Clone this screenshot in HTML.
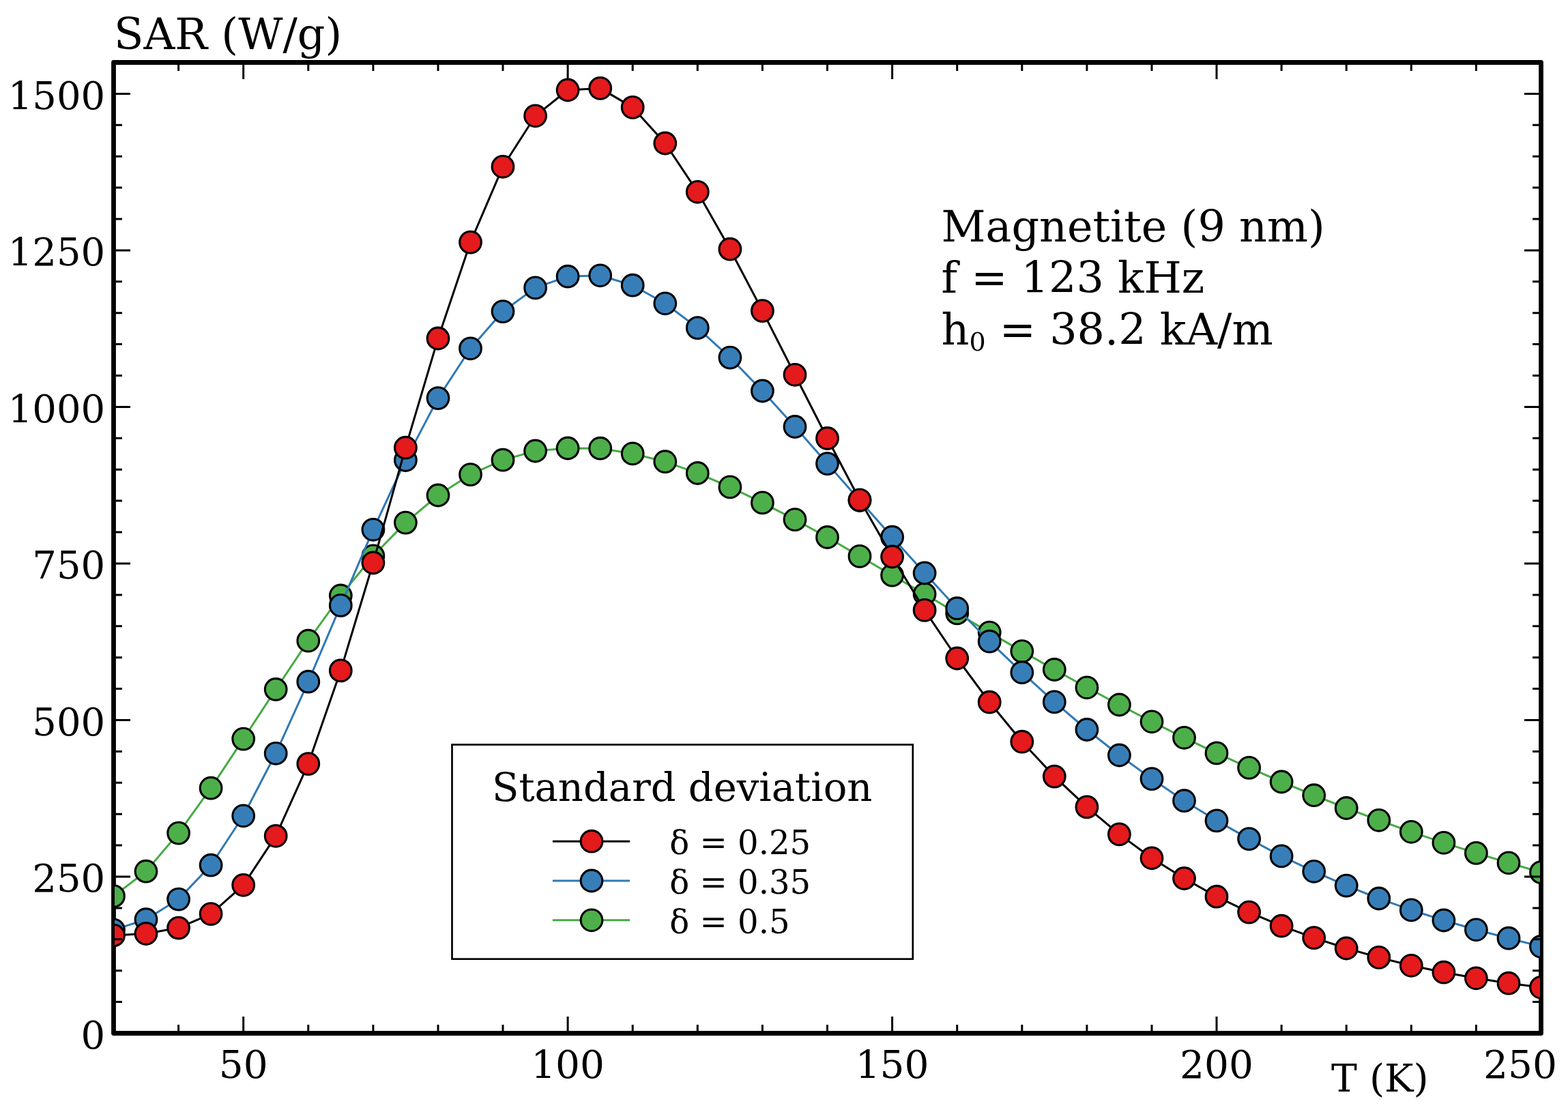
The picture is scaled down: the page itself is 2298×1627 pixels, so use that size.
<!DOCTYPE html>
<html><head><meta charset="utf-8"><title>SAR vs T</title><style>html,body{margin:0;padding:0;background:#fff;overflow:hidden}svg{display:block}</style></head><body>
<svg width="2298" height="1627" viewBox="0 0 2298 1627">
<rect width="2298" height="1627" fill="#fff"/>
<defs><clipPath id="c"><rect x="168" y="93" width="2089" height="1420"/></clipPath></defs>
<rect x="166.5" y="91.5" width="2092.0" height="1423.0" fill="none" stroke="#000" stroke-width="6.8" stroke-linejoin="round"/>
<g clip-path="url(#c)">
<polyline points="166.5,1313.5 214.0,1277.2 261.6,1221.1 309.1,1155.2 356.7,1083.1 404.2,1010.5 451.8,939.2 499.3,873.0 546.9,814.8 594.4,766.1 642.0,726.0 689.5,695.6 737.0,674.2 784.6,661.0 832.1,657.0 879.7,657.2 927.2,664.9 974.8,676.7 1022.3,693.5 1069.9,713.9 1117.4,736.9 1165.0,761.6 1212.5,787.5 1260.0,815.4 1307.6,843.2 1355.1,870.8 1402.7,898.9 1450.2,927.1 1497.8,954.6 1545.3,981.5 1592.9,1007.8 1640.4,1033.0 1688.0,1057.8 1735.5,1081.3 1783.0,1103.9 1830.6,1125.4 1878.1,1146.0 1925.7,1165.7 1973.2,1184.5 2020.8,1202.3 2068.3,1219.3 2115.9,1235.3 2163.4,1250.4 2211.0,1264.8 2258.5,1278.6" fill="none" stroke="#46ab43" stroke-width="3.0" stroke-linejoin="round"/>
<g fill="#4daf4a" stroke="#000" stroke-width="3.1">
<circle cx="166.5" cy="1313.5" r="15.85"/>
<circle cx="214.0" cy="1277.2" r="15.85"/>
<circle cx="261.6" cy="1221.1" r="15.85"/>
<circle cx="309.1" cy="1155.2" r="15.85"/>
<circle cx="356.7" cy="1083.1" r="15.85"/>
<circle cx="404.2" cy="1010.5" r="15.85"/>
<circle cx="451.8" cy="939.2" r="15.85"/>
<circle cx="499.3" cy="873.0" r="15.85"/>
<circle cx="546.9" cy="814.8" r="15.85"/>
<circle cx="594.4" cy="766.1" r="15.85"/>
<circle cx="642.0" cy="726.0" r="15.85"/>
<circle cx="689.5" cy="695.6" r="15.85"/>
<circle cx="737.0" cy="674.2" r="15.85"/>
<circle cx="784.6" cy="661.0" r="15.85"/>
<circle cx="832.1" cy="657.0" r="15.85"/>
<circle cx="879.7" cy="657.2" r="15.85"/>
<circle cx="927.2" cy="664.9" r="15.85"/>
<circle cx="974.8" cy="676.7" r="15.85"/>
<circle cx="1022.3" cy="693.5" r="15.85"/>
<circle cx="1069.9" cy="713.9" r="15.85"/>
<circle cx="1117.4" cy="736.9" r="15.85"/>
<circle cx="1165.0" cy="761.6" r="15.85"/>
<circle cx="1212.5" cy="787.5" r="15.85"/>
<circle cx="1260.0" cy="815.4" r="15.85"/>
<circle cx="1307.6" cy="843.2" r="15.85"/>
<circle cx="1355.1" cy="870.8" r="15.85"/>
<circle cx="1402.7" cy="898.9" r="15.85"/>
<circle cx="1450.2" cy="927.1" r="15.85"/>
<circle cx="1497.8" cy="954.6" r="15.85"/>
<circle cx="1545.3" cy="981.5" r="15.85"/>
<circle cx="1592.9" cy="1007.8" r="15.85"/>
<circle cx="1640.4" cy="1033.0" r="15.85"/>
<circle cx="1688.0" cy="1057.8" r="15.85"/>
<circle cx="1735.5" cy="1081.3" r="15.85"/>
<circle cx="1783.0" cy="1103.9" r="15.85"/>
<circle cx="1830.6" cy="1125.4" r="15.85"/>
<circle cx="1878.1" cy="1146.0" r="15.85"/>
<circle cx="1925.7" cy="1165.7" r="15.85"/>
<circle cx="1973.2" cy="1184.5" r="15.85"/>
<circle cx="2020.8" cy="1202.3" r="15.85"/>
<circle cx="2068.3" cy="1219.3" r="15.85"/>
<circle cx="2115.9" cy="1235.3" r="15.85"/>
<circle cx="2163.4" cy="1250.4" r="15.85"/>
<circle cx="2211.0" cy="1264.8" r="15.85"/>
<circle cx="2258.5" cy="1278.6" r="15.85"/>
</g>

<polyline points="166.5,1363.0 214.0,1347.7 261.6,1318.1 309.1,1268.2 356.7,1195.8 404.2,1104.3 451.8,999.2 499.3,887.4 546.9,776.3 594.4,674.5 642.0,583.6 689.5,510.8 737.0,456.6 784.6,421.9 832.1,405.2 879.7,403.8 927.2,418.2 974.8,444.8 1022.3,480.6 1069.9,524.1 1117.4,573.0 1165.0,625.5 1212.5,679.6 1260.0,733.5 1307.6,787.2 1355.1,840.0 1402.7,891.7 1450.2,940.2 1497.8,985.7 1545.3,1028.9 1592.9,1069.5 1640.4,1107.0 1688.0,1141.6 1735.5,1173.7 1783.0,1202.9 1830.6,1229.6 1878.1,1254.9 1925.7,1277.3 1973.2,1298.1 2020.8,1317.0 2068.3,1333.9 2115.9,1349.0 2163.4,1362.8 2211.0,1375.2 2258.5,1387.4" fill="none" stroke="#3079b5" stroke-width="3.0" stroke-linejoin="round"/>
<g fill="#377eb8" stroke="#000" stroke-width="3.1">
<circle cx="166.5" cy="1363.0" r="15.85"/>
<circle cx="214.0" cy="1347.7" r="15.85"/>
<circle cx="261.6" cy="1318.1" r="15.85"/>
<circle cx="309.1" cy="1268.2" r="15.85"/>
<circle cx="356.7" cy="1195.8" r="15.85"/>
<circle cx="404.2" cy="1104.3" r="15.85"/>
<circle cx="451.8" cy="999.2" r="15.85"/>
<circle cx="499.3" cy="887.4" r="15.85"/>
<circle cx="546.9" cy="776.3" r="15.85"/>
<circle cx="594.4" cy="674.5" r="15.85"/>
<circle cx="642.0" cy="583.6" r="15.85"/>
<circle cx="689.5" cy="510.8" r="15.85"/>
<circle cx="737.0" cy="456.6" r="15.85"/>
<circle cx="784.6" cy="421.9" r="15.85"/>
<circle cx="832.1" cy="405.2" r="15.85"/>
<circle cx="879.7" cy="403.8" r="15.85"/>
<circle cx="927.2" cy="418.2" r="15.85"/>
<circle cx="974.8" cy="444.8" r="15.85"/>
<circle cx="1022.3" cy="480.6" r="15.85"/>
<circle cx="1069.9" cy="524.1" r="15.85"/>
<circle cx="1117.4" cy="573.0" r="15.85"/>
<circle cx="1165.0" cy="625.5" r="15.85"/>
<circle cx="1212.5" cy="679.6" r="15.85"/>
<circle cx="1260.0" cy="733.5" r="15.85"/>
<circle cx="1307.6" cy="787.2" r="15.85"/>
<circle cx="1355.1" cy="840.0" r="15.85"/>
<circle cx="1402.7" cy="891.7" r="15.85"/>
<circle cx="1450.2" cy="940.2" r="15.85"/>
<circle cx="1497.8" cy="985.7" r="15.85"/>
<circle cx="1545.3" cy="1028.9" r="15.85"/>
<circle cx="1592.9" cy="1069.5" r="15.85"/>
<circle cx="1640.4" cy="1107.0" r="15.85"/>
<circle cx="1688.0" cy="1141.6" r="15.85"/>
<circle cx="1735.5" cy="1173.7" r="15.85"/>
<circle cx="1783.0" cy="1202.9" r="15.85"/>
<circle cx="1830.6" cy="1229.6" r="15.85"/>
<circle cx="1878.1" cy="1254.9" r="15.85"/>
<circle cx="1925.7" cy="1277.3" r="15.85"/>
<circle cx="1973.2" cy="1298.1" r="15.85"/>
<circle cx="2020.8" cy="1317.0" r="15.85"/>
<circle cx="2068.3" cy="1333.9" r="15.85"/>
<circle cx="2115.9" cy="1349.0" r="15.85"/>
<circle cx="2163.4" cy="1362.8" r="15.85"/>
<circle cx="2211.0" cy="1375.2" r="15.85"/>
<circle cx="2258.5" cy="1387.4" r="15.85"/>
</g>

<polyline points="166.5,1371.0 214.0,1368.5 261.6,1360.1 309.1,1339.6 356.7,1297.3 404.2,1225.3 451.8,1119.6 499.3,982.9 546.9,825.0 594.4,656.2 642.0,496.0 689.5,355.1 737.0,244.3 784.6,169.8 832.1,132.0 879.7,129.4 927.2,157.4 974.8,210.0 1022.3,281.3 1069.9,365.2 1117.4,455.6 1165.0,549.3 1212.5,642.5 1260.0,732.8 1307.6,816.0 1355.1,894.4 1402.7,965.0 1450.2,1029.2 1497.8,1087.2 1545.3,1138.1 1592.9,1182.9 1640.4,1222.9 1688.0,1257.8 1735.5,1287.5 1783.0,1314.2 1830.6,1337.1 1878.1,1357.2 1925.7,1374.6 1973.2,1390.0 2020.8,1403.4 2068.3,1415.3 2115.9,1425.2 2163.4,1433.8 2211.0,1441.2 2258.5,1447.3" fill="none" stroke="#000" stroke-width="3.0" stroke-linejoin="round"/>
<g fill="#e41a1c" stroke="#000" stroke-width="3.1">
<circle cx="166.5" cy="1371.0" r="15.85"/>
<circle cx="214.0" cy="1368.5" r="15.85"/>
<circle cx="261.6" cy="1360.1" r="15.85"/>
<circle cx="309.1" cy="1339.6" r="15.85"/>
<circle cx="356.7" cy="1297.3" r="15.85"/>
<circle cx="404.2" cy="1225.3" r="15.85"/>
<circle cx="451.8" cy="1119.6" r="15.85"/>
<circle cx="499.3" cy="982.9" r="15.85"/>
<circle cx="546.9" cy="825.0" r="15.85"/>
<circle cx="594.4" cy="656.2" r="15.85"/>
<circle cx="642.0" cy="496.0" r="15.85"/>
<circle cx="689.5" cy="355.1" r="15.85"/>
<circle cx="737.0" cy="244.3" r="15.85"/>
<circle cx="784.6" cy="169.8" r="15.85"/>
<circle cx="832.1" cy="132.0" r="15.85"/>
<circle cx="879.7" cy="129.4" r="15.85"/>
<circle cx="927.2" cy="157.4" r="15.85"/>
<circle cx="974.8" cy="210.0" r="15.85"/>
<circle cx="1022.3" cy="281.3" r="15.85"/>
<circle cx="1069.9" cy="365.2" r="15.85"/>
<circle cx="1117.4" cy="455.6" r="15.85"/>
<circle cx="1165.0" cy="549.3" r="15.85"/>
<circle cx="1212.5" cy="642.5" r="15.85"/>
<circle cx="1260.0" cy="732.8" r="15.85"/>
<circle cx="1307.6" cy="816.0" r="15.85"/>
<circle cx="1355.1" cy="894.4" r="15.85"/>
<circle cx="1402.7" cy="965.0" r="15.85"/>
<circle cx="1450.2" cy="1029.2" r="15.85"/>
<circle cx="1497.8" cy="1087.2" r="15.85"/>
<circle cx="1545.3" cy="1138.1" r="15.85"/>
<circle cx="1592.9" cy="1182.9" r="15.85"/>
<circle cx="1640.4" cy="1222.9" r="15.85"/>
<circle cx="1688.0" cy="1257.8" r="15.85"/>
<circle cx="1735.5" cy="1287.5" r="15.85"/>
<circle cx="1783.0" cy="1314.2" r="15.85"/>
<circle cx="1830.6" cy="1337.1" r="15.85"/>
<circle cx="1878.1" cy="1357.2" r="15.85"/>
<circle cx="1925.7" cy="1374.6" r="15.85"/>
<circle cx="1973.2" cy="1390.0" r="15.85"/>
<circle cx="2020.8" cy="1403.4" r="15.85"/>
<circle cx="2068.3" cy="1415.3" r="15.85"/>
<circle cx="2115.9" cy="1425.2" r="15.85"/>
<circle cx="2163.4" cy="1433.8" r="15.85"/>
<circle cx="2211.0" cy="1441.2" r="15.85"/>
<circle cx="2258.5" cy="1447.3" r="15.85"/>
</g>

</g>
<path d="M261.6,1514.5v-12.4M261.6,91.5v12.4M356.7,1514.5v-24.5M356.7,91.5v24.5M451.8,1514.5v-12.4M451.8,91.5v12.4M546.9,1514.5v-12.4M546.9,91.5v12.4M642.0,1514.5v-12.4M642.0,91.5v12.4M737.0,1514.5v-12.4M737.0,91.5v12.4M832.1,1514.5v-24.5M832.1,91.5v24.5M927.2,1514.5v-12.4M927.2,91.5v12.4M1022.3,1514.5v-12.4M1022.3,91.5v12.4M1117.4,1514.5v-12.4M1117.4,91.5v12.4M1212.5,1514.5v-12.4M1212.5,91.5v12.4M1307.6,1514.5v-24.5M1307.6,91.5v24.5M1402.7,1514.5v-12.4M1402.7,91.5v12.4M1497.8,1514.5v-12.4M1497.8,91.5v12.4M1592.9,1514.5v-12.4M1592.9,91.5v12.4M1688.0,1514.5v-12.4M1688.0,91.5v12.4M1783.0,1514.5v-24.5M1783.0,91.5v24.5M1878.1,1514.5v-12.4M1878.1,91.5v12.4M1973.2,1514.5v-12.4M1973.2,91.5v12.4M2068.3,1514.5v-12.4M2068.3,91.5v12.4M2163.4,1514.5v-12.4M2163.4,91.5v12.4M166.5,1468.6h12.4M2258.5,1468.6h-12.4M166.5,1422.7h12.4M2258.5,1422.7h-12.4M166.5,1376.8h12.4M2258.5,1376.8h-12.4M166.5,1330.9h12.4M2258.5,1330.9h-12.4M166.5,1285.0h24.5M2258.5,1285.0h-24.5M166.5,1239.1h12.4M2258.5,1239.1h-12.4M166.5,1193.2h12.4M2258.5,1193.2h-12.4M166.5,1147.3h12.4M2258.5,1147.3h-12.4M166.5,1101.4h12.4M2258.5,1101.4h-12.4M166.5,1055.5h24.5M2258.5,1055.5h-24.5M166.5,1009.6h12.4M2258.5,1009.6h-12.4M166.5,963.7h12.4M2258.5,963.7h-12.4M166.5,917.8h12.4M2258.5,917.8h-12.4M166.5,871.9h12.4M2258.5,871.9h-12.4M166.5,826.0h24.5M2258.5,826.0h-24.5M166.5,780.0h12.4M2258.5,780.0h-12.4M166.5,734.1h12.4M2258.5,734.1h-12.4M166.5,688.2h12.4M2258.5,688.2h-12.4M166.5,642.3h12.4M2258.5,642.3h-12.4M166.5,596.4h24.5M2258.5,596.4h-24.5M166.5,550.5h12.4M2258.5,550.5h-12.4M166.5,504.6h12.4M2258.5,504.6h-12.4M166.5,458.7h12.4M2258.5,458.7h-12.4M166.5,412.8h12.4M2258.5,412.8h-12.4M166.5,366.9h24.5M2258.5,366.9h-24.5M166.5,321.0h12.4M2258.5,321.0h-12.4M166.5,275.1h12.4M2258.5,275.1h-12.4M166.5,229.2h12.4M2258.5,229.2h-12.4M166.5,183.3h12.4M2258.5,183.3h-12.4M166.5,137.4h24.5M2258.5,137.4h-24.5" stroke="#000" stroke-width="3.0" fill="none"/>
<g font-family="'DejaVu Serif', 'Liberation Serif', serif" font-size="56" text-anchor="end">
<text x="154.2" y="1536.8">0</text>
<text x="154.2" y="1307.3">250</text>
<text x="154.2" y="1077.8">500</text>
<text x="154.2" y="848.2">750</text>
<text x="154.2" y="618.7">1000</text>
<text x="154.2" y="389.2">1250</text>
<text x="154.2" y="159.7">1500</text>
</g>
<g font-family="'DejaVu Serif', 'Liberation Serif', serif" font-size="56.5" text-anchor="middle">
<text x="356.7" y="1579.5">50</text>
<text x="832.1" y="1579.5">100</text>
<text x="1307.6" y="1579.5">150</text>
<text x="1783.0" y="1579.5">200</text>
<text x="2228" y="1579.5">250</text>
</g>
<text x="1951" y="1600.3" font-family="'DejaVu Serif', 'Liberation Serif', serif" font-size="56.8">T (K)</text>
<text x="167" y="72.3" font-family="'DejaVu Serif', 'Liberation Serif', serif" font-size="63.5">SAR (W/g)</text>
<g font-family="'DejaVu Serif', 'Liberation Serif', serif" font-size="63.5">
<text x="1379.5" y="354.1">Magnetite (9 nm)</text>
<text x="1379.5" y="428.6">f = 123 kHz</text>
<text x="1379.5" y="504.5">h<tspan font-size="38" dy="9">0</tspan><tspan dy="-9"> = 38.2 kA/m</tspan></text>
</g>
<rect x="662.5" y="1091.5" width="675.3" height="314.2" fill="#fff" stroke="#000" stroke-width="2.7"/>
<text x="999.7" y="1174" font-family="'DejaVu Serif', 'Liberation Serif', serif" font-size="57.6" text-anchor="middle">Standard deviation</text>
<path d="M809.9,1233.2H923.1" stroke="#000" stroke-width="3.0"/>
<circle cx="867" cy="1233.2" r="15.85" fill="#e41a1c" stroke="#000" stroke-width="3.1"/>
<text x="981.3" y="1252.2" font-family="'DejaVu Serif', 'Liberation Serif', serif" font-size="48.1">δ = 0.25</text>
<path d="M809.9,1291.0H923.1" stroke="#3079b5" stroke-width="3.0"/>
<circle cx="867" cy="1291.0" r="15.85" fill="#377eb8" stroke="#000" stroke-width="3.1"/>
<text x="981.3" y="1310.0" font-family="'DejaVu Serif', 'Liberation Serif', serif" font-size="48.1">δ = 0.35</text>
<path d="M809.9,1348.8H923.1" stroke="#46ab43" stroke-width="3.0"/>
<circle cx="867" cy="1348.8" r="15.85" fill="#4daf4a" stroke="#000" stroke-width="3.1"/>
<text x="981.3" y="1367.8" font-family="'DejaVu Serif', 'Liberation Serif', serif" font-size="48.1">δ = 0.5</text>
</svg>
</body></html>
